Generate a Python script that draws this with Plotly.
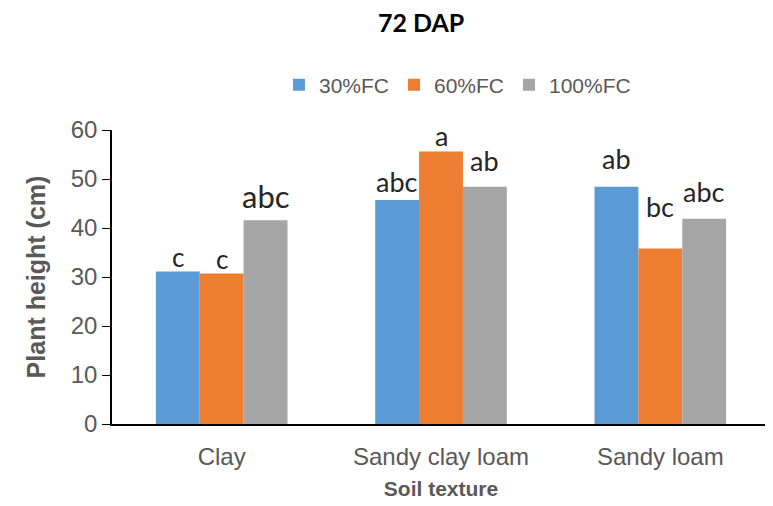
import plotly.graph_objects as go

categories = ["Clay", "Sandy clay loam", "Sandy loam"]
series_names = ["30%FC", "60%FC", "100%FC"]
fc30 = [31.1, 45.7, 48.4]
fc60 = [30.7, 55.6, 35.8]
fc100 = [41.6, 48.4, 41.9]
letters30 = ["c", "abc", "ab"]
letters60 = ["c", "a", "bc"]
letters100 = ["abc", "ab", "abc"]

colors = ["#5B9BD5", "#ED7D31", "#A5A5A5"]
values = [fc30, fc60, fc100]
letters = [letters30, letters60, letters100]
# vertical offsets (px) of the significance letters above the bar tops
label_shift = [[15, 19, 28], [15, 16, 42], [24, 26, 27]]
label_size = [[26, 27, 27], [26, 27, 27], [31, 27, 27]]

W, H = 765, 498
ML, MR, MT, MB = 104, 3, 122, 82

fig = go.Figure()
for name, vals, col in zip(series_names, values, colors):
    fig.add_trace(go.Bar(x=categories, y=vals, name=name, marker_color=col,
                         marker_line_width=0))

plot_w = W - ML - MR
bar_px = plot_w / 3 * 0.6 / 3
for i in range(3):
    for j, cat in enumerate(categories):
        fig.add_annotation(x=cat, y=values[i][j], xref="x", yref="y",
                           text=letters[i][j], showarrow=False,
                           xshift=(i - 1) * bar_px, yshift=label_shift[i][j],
                           font=dict(family="Lato, Open Sans, sans-serif",
                                     size=label_size[i][j], color="#262626"))

fig.update_layout(
    width=W, height=H,
    margin=dict(l=ML, r=MR, t=MT, b=MB),
    paper_bgcolor="white", plot_bgcolor="white",
    barmode="group", bargap=0.4, bargroupgap=0,
    title=dict(text="<b>72 DAP</b>", xref="container", x=0.54, xanchor="center",
               yref="container", y=0.97, yanchor="middle",
               font=dict(family="Lato, Open Sans, sans-serif", size=25, color="#000000")),
    legend=dict(orientation="h", x=0.525, xanchor="center", y=1.153, yanchor="middle",
                font=dict(family="Liberation Sans, Arial, sans-serif", size=21, color="#595959"),
                itemwidth=30, traceorder="normal"),
    font=dict(family="Liberation Sans, Arial, sans-serif", color="#595959"),
)
fig.update_yaxes(range=[0, 60], dtick=10, showgrid=False, zeroline=False,
                 showline=True, linecolor="#000000", linewidth=1.5,
                 ticks="outside", ticklen=8, tickcolor="#000000",
                 tickfont=dict(size=24, color="#595959"),
                 title=dict(text="<b>Plant height (cm)</b>", standoff=18,
                            font=dict(size=25, color="#595959")))
fig.update_xaxes(showgrid=False, showline=True, linecolor="#000000", linewidth=1.5,
                 ticks="", tickfont=dict(size=24, color="#595959"),
                 ticklabelstandoff=10,
                 title=dict(text="<b>Soil texture</b>", standoff=13,
                            font=dict(size=21, color="#595959")))

fig.write_html("out.html")
